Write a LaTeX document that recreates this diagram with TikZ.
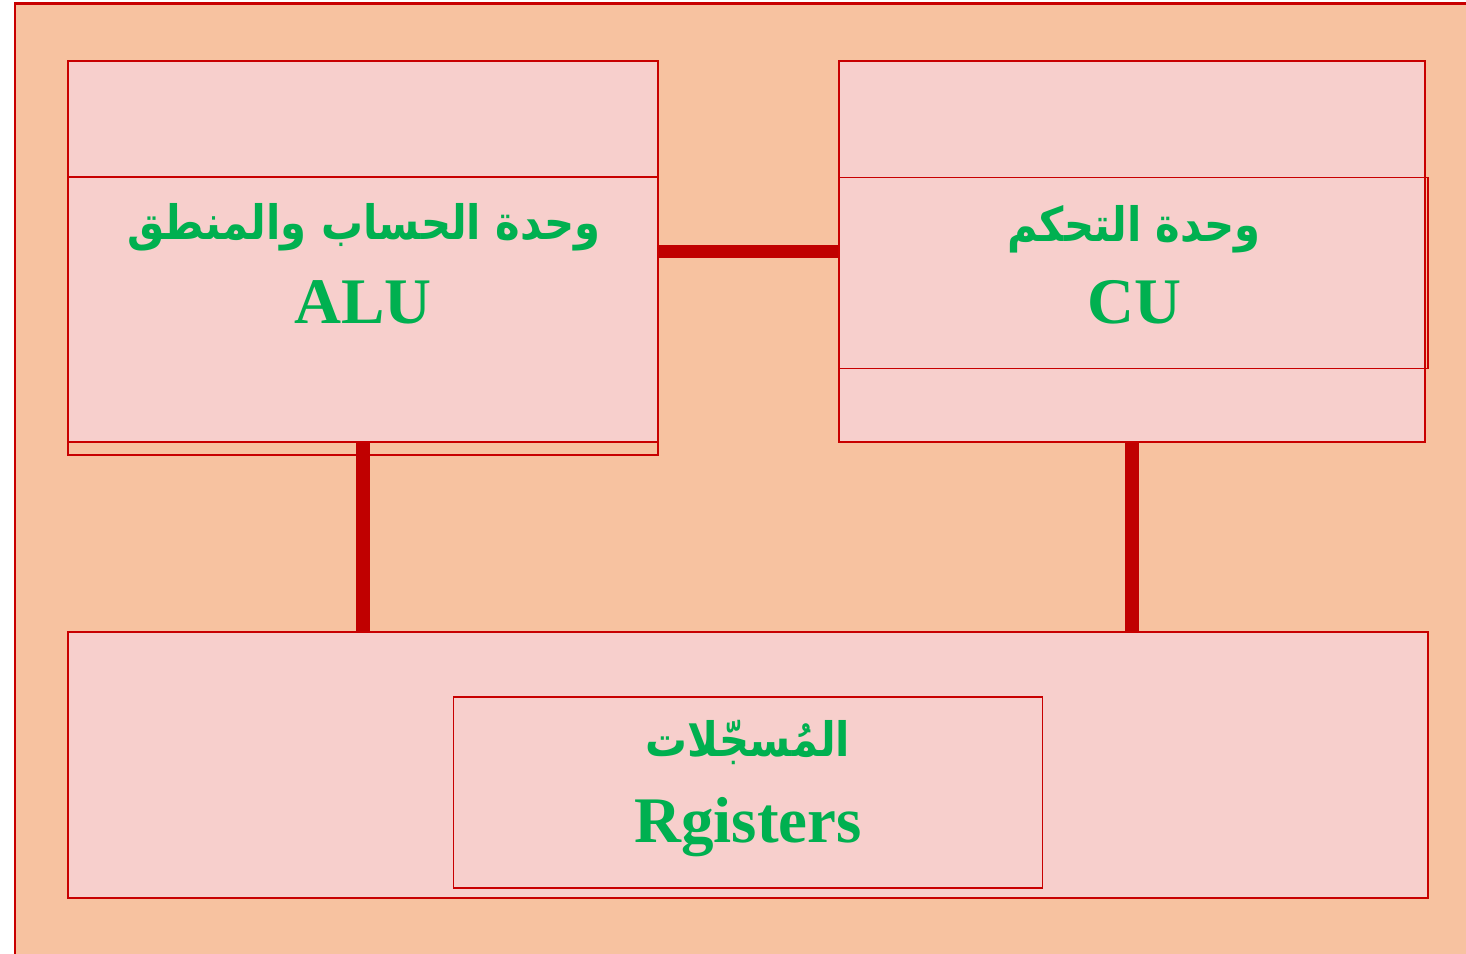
\documentclass[tikz,border=0pt]{standalone}
\usepackage{fontspec}
\setmainfont{Liberation Serif}
\newfontfamily\arabicfont[Script=Arabic, FakeStretch=0.88]{DejaVu Sans}
\TeXXeTstate=1
\usetikzlibrary{positioning}
\definecolor{peach}{HTML}{F7C2A0}
\definecolor{boxpink}{HTML}{F7CFCC}
\definecolor{linered}{HTML}{C80000}
\definecolor{busred}{HTML}{C00000}
\definecolor{textgreen}{HTML}{00B050}
\begin{document}
\begin{tikzpicture}[node distance=1.5cm, thick]
    % Define styles
    \tikzstyle{unit} = [rectangle, draw=linered, line width=1.1pt, fill=boxpink, inner sep=0pt]
    \tikzstyle{textbox} = [rectangle, draw=linered, line width=1.1pt, inner sep=0pt]
    \tikzstyle{artext} = [font=\arabicfont\bfseries\fontsize{27}{32}\selectfont, text=textgreen, anchor=base, inner sep=0pt]
    \tikzstyle{entext} = [font=\bfseries\fontsize{37}{44}\selectfont, text=textgreen, anchor=base, inner sep=0pt]
    \tikzstyle{bus} = [draw=busred, line width=7.5pt]

    % Background
    \useasboundingbox (0,0) rectangle (29.32,19.08);
    \clip (0,0) rectangle (29.32,19.08);
    \draw [draw=linered, line width=1.7pt, fill=peach] (0.30,-1) rectangle (30,19.0);

    % Place nodes - units
    \node [unit, minimum width=11.8cm, minimum height=7.62cm] (alu) at (7.26,14.05) {};
    \node [unit, minimum width=11.72cm, minimum height=7.62cm, right of=alu, node distance=15.38cm] (cu) {};
    \node [unit, minimum width=27.2cm, minimum height=5.32cm] (reg) at (14.96,3.78) {};

    % Place nodes - text boxes inside the units
    \node [textbox, minimum width=11.8cm, minimum height=5.56cm, below of=alu, node distance=1.29cm] (alubox) {};
    \node [textbox, minimum width=11.78cm, minimum height=3.82cm, below of=cu, node distance=0.43cm, xshift=0.03cm] (cubox) {};
    \node [textbox, minimum width=11.78cm, minimum height=3.82cm, below of=reg, node distance=0.55cm] (regbox) {};

    % Place nodes - texts
    \node [artext] (aluar) at (7.28,14.28) {\beginR وحدة الحساب والمنطق\endR};
    \node [entext] (aluen) at (7.26,12.60) {ALU};
    \node [artext] (cuar) at (22.68,14.24) {\beginR وحدة التحكم\endR};
    \node [entext] (cuen) at (22.68,12.60) {CU};
    \node [artext] (regar) at (14.96,3.94) {\beginR المُسجّلات\endR};
    \node [entext] (regen) at (14.96,2.22) {Rgisters};

    % Draw buses between units
    \path [bus] (alu.east) -- (cu.west);
    \path [bus] (alu.south) -- (alu.south |- reg.north);
    \path [bus] (cu.south) -- (cu.south |- reg.north);

\end{tikzpicture}
\end{document}
